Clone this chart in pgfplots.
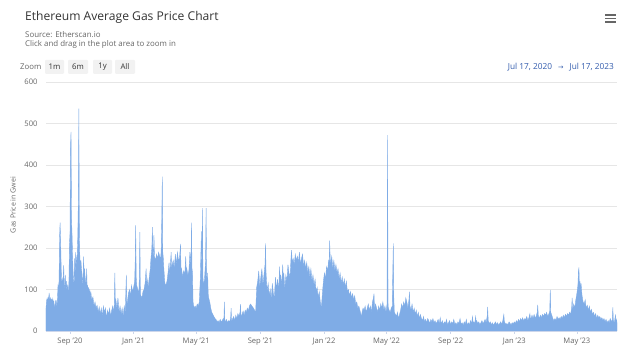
\documentclass[border=0pt]{standalone}
\usepackage{fontspec}
\setmainfont{Open Sans}
\newfontfamily\dejavu{DejaVu Sans}
\usepackage{pgfplots}
\pgfplotsset{compat=1.18}
\definecolor{barblue}{HTML}{7FACE6}
\definecolor{titlegray}{HTML}{333333}
\definecolor{subgray}{HTML}{666666}
\definecolor{gridgray}{HTML}{E6E6E6}
\definecolor{axisblue}{HTML}{CCD6EB}
\definecolor{btngray}{HTML}{F2F2F2}
\definecolor{datecol}{HTML}{335CAD}
\begin{document}
\begin{tikzpicture}
\useasboundingbox (0pt,0pt) rectangle (624pt,352pt);
\begin{axis}[
  at={(46pt,21pt)}, anchor=south west,
  scale only axis, width=571pt, height=249pt,
  xmin=0, xmax=1095, ymin=0, ymax=600,
  axis line style={draw=none},
  ytick={0,100,200,300,400,500,600},
  ymajorgrids, grid style={gridgray, line width=0.6pt},
  ytick style={draw=none},
  xtick={46,168,288,411,533,653,776,898,1018},
  xticklabels={Sep '20,Jan '21,May '21,Sep '21,Jan '22,May '22,Sep '22,Jan '23,May '23},
  xtick pos=bottom, xtick align=outside,
  major tick length=3pt,
  xtick style={axisblue, line width=0.6pt},
  /pgf/number format/assume math mode=true,
  yticklabel style={font=\fontsize{7.6}{9}\selectfont, text=subgray, xshift=-5pt},
  xticklabel style={font=\fontsize{7.6}{9}\selectfont, text=subgray, yshift=-0.5pt},
  clip=false,
]
\addplot[fill=barblue, draw=barblue, line width=0.35pt] table[row sep=\\] {
0 55\\ 1 72\\ 2 78\\ 3 70\\ 4 80\\ 5 75\\ 6 92\\ 7 78\\ 8 74\\ 9 80\\ 10 72\\ 11 76\\ 12 70\\ 13 78\\ 14 68\\ 15 72\\ 16 60\\ 17 55\\ 18 70\\ 19 74\\ 20 72\\ 21 55\\ 22 78\\ 23 110\\ 24 105\\ 25 120\\ 26 225\\ 27 261\\ 28 220\\ 29 160\\ 30 110\\
31 125\\ 32 115\\ 33 130\\ 34 159\\ 35 110\\ 36 100\\ 37 135\\ 38 105\\ 39 120\\ 40 98\\ 41 110\\ 42 100\\ 43 95\\ 44 120\\ 45 210\\ 46 235\\ 47 445\\ 48 480\\ 49 270\\ 50 230\\ 51 180\\ 52 140\\ 53 120\\ 54 110\\ 55 175\\ 56 130\\ 57 190\\ 58 150\\ 59 175\\ 60 185\\
61 230\\ 62 315\\ 63 536\\ 64 230\\ 65 175\\ 66 160\\ 67 170\\ 68 150\\ 69 140\\ 70 120\\ 71 110\\ 72 180\\ 73 140\\ 74 150\\ 75 130\\ 76 120\\ 77 110\\ 78 150\\ 79 100\\ 80 110\\ 81 90\\ 82 105\\ 83 85\\ 84 100\\ 85 80\\ 86 95\\ 87 82\\ 88 75\\ 90 82\\ 92 60\\
94 70\\ 96 55\\ 98 62\\ 100 45\\ 102 58\\ 104 40\\ 106 55\\ 108 35\\ 110 60\\ 112 45\\ 114 55\\ 116 30\\ 118 50\\ 120 40\\ 122 55\\ 124 35\\ 126 50\\ 128 60\\ 130 45\\ 131 65\\ 132 140\\ 133 60\\ 134 75\\ 136 55\\ 138 80\\ 140 45\\ 142 60\\ 144 40\\ 146 55\\ 148 35\\
150 60\\ 152 45\\ 154 135\\ 155 60\\ 156 70\\ 158 90\\ 160 100\\ 162 85\\ 164 110\\ 166 95\\ 168 105\\ 170 120\\ 171 165\\ 172 255\\ 173 130\\ 174 110\\ 176 100\\ 178 90\\ 179 130\\ 180 238\\ 181 90\\ 182 85\\ 184 80\\ 186 95\\ 188 100\\ 190 115\\ 192 150\\ 193 110\\ 194 125\\ 196 105\\ 198 130\\
200 150\\ 201 170\\ 202 185\\ 203 200\\ 204 250\\ 205 190\\ 206 175\\ 207 231\\ 208 180\\ 210 170\\ 212 185\\ 214 175\\ 216 190\\ 218 180\\ 220 175\\ 221 200\\ 222 270\\ 223 372\\ 224 190\\ 225 175\\ 226 150\\ 228 115\\ 230 110\\ 232 120\\ 234 140\\ 236 165\\ 237 130\\ 238 150\\ 240 190\\ 241 145\\
242 160\\ 244 170\\ 246 150\\ 248 185\\ 250 160\\ 252 190\\ 254 170\\ 256 175\\ 258 210\\ 259 140\\ 260 150\\ 262 130\\ 264 145\\ 266 135\\ 268 180\\ 269 140\\ 270 150\\ 272 135\\ 274 145\\ 276 190\\ 278 160\\ 279 261\\ 280 150\\ 281 140\\ 282 70\\ 284 55\\ 286 60\\ 288 55\\ 290 65\\ 292 60\\
294 70\\ 296 130\\ 298 240\\ 299 140\\ 300 296\\ 301 130\\ 302 110\\ 304 125\\ 306 170\\ 307 296\\ 308 140\\ 309 110\\ 310 140\\ 311 90\\ 312 80\\ 314 70\\ 316 55\\ 318 45\\ 320 40\\
322 35\\ 324 30\\ 326 28\\ 328 22\\ 330 25\\ 332 20\\ 334 28\\ 336 22\\ 338 25\\ 340 30\\ 341 20\\ 342 70\\ 343 25\\ 344 22\\ 346 28\\ 348 20\\ 350 25\\ 352 22\\ 354 30\\ 355 55\\ 356 22\\ 358 30\\ 360 35\\ 362 25\\ 364 38\\ 366 30\\ 368 42\\ 370 35\\ 372 45\\ 373 65\\
374 35\\ 376 40\\ 378 48\\ 380 38\\ 382 50\\ 384 45\\ 386 55\\ 388 48\\ 390 60\\ 392 65\\ 394 62\\ 396 58\\ 398 55\\ 400 50\\ 402 45\\
404 105\\ 406 120\\ 408 145\\ 410 105\\ 412 130\\ 414 150\\ 416 110\\ 418 135\\ 420 160\\ 421 211\\ 422 140\\ 424 95\\ 426 115\\ 428 85\\ 430 100\\ 432 75\\ 434 115\\ 436 90\\ 438 80\\ 440 130\\ 442 100\\ 444 125\\ 446 95\\ 448 155\\ 449 120\\ 450 135\\ 452 110\\ 454 160\\ 455 125\\ 456 140\\
458 100\\ 460 135\\ 462 120\\ 464 160\\ 466 140\\ 468 130\\
470 180\\ 471 195\\ 472 165\\ 474 175\\ 476 160\\ 478 185\\ 480 170\\ 482 180\\ 484 165\\ 486 190\\ 488 160\\ 490 175\\ 492 185\\ 494 155\\ 496 170\\ 498 150\\ 500 165\\ 502 140\\ 504 155\\ 506 130\\ 508 150\\ 510 120\\ 512 135\\ 514 110\\ 516 125\\ 518 95\\ 520 105\\ 522 80\\ 524 95\\ 526 70\\
528 55\\ 530 90\\ 532 120\\ 534 140\\ 536 125\\ 538 155\\ 540 145\\ 542 170\\ 543 160\\ 544 218\\ 545 175\\ 546 160\\ 548 180\\ 550 150\\ 552 170\\ 554 145\\ 556 160\\ 558 140\\ 560 150\\ 562 125\\ 564 140\\ 566 115\\ 568 130\\ 570 110\\ 572 125\\ 574 105\\ 576 120\\ 578 95\\ 580 100\\ 582 85\\
584 95\\ 586 80\\ 588 90\\ 590 75\\ 592 85\\ 594 65\\ 596 70\\ 598 55\\ 600 60\\ 602 50\\ 604 40\\ 605 30\\ 606 45\\ 608 55\\ 610 50\\ 612 60\\ 614 45\\ 616 55\\ 618 65\\ 620 50\\ 622 60\\ 624 45\\ 626 70\\ 628 80\\ 629 90\\ 630 55\\ 632 65\\ 634 55\\ 636 45\\ 638 60\\
640 50\\ 642 65\\ 644 55\\ 646 70\\ 648 50\\ 650 60\\ 652 45\\ 654 65\\ 655 472\\ 656 60\\ 658 50\\ 660 45\\ 662 55\\ 664 60\\ 665 140\\ 666 211\\ 667 80\\ 668 45\\ 670 40\\ 672 35\\ 674 45\\ 676 30\\ 678 40\\ 680 50\\ 682 65\\ 684 55\\ 686 70\\ 688 60\\ 690 80\\ 692 70\\
694 55\\ 696 75\\ 697 95\\ 698 60\\ 700 50\\ 702 65\\ 704 45\\ 706 55\\ 708 40\\ 710 50\\ 712 35\\ 714 45\\ 716 30\\
718 40\\ 720 30\\ 722 25\\ 724 35\\ 726 22\\ 728 28\\ 730 20\\ 732 30\\ 734 25\\ 736 18\\ 738 28\\ 740 22\\ 742 30\\ 744 20\\ 746 25\\ 748 18\\ 750 22\\ 752 28\\ 754 18\\ 756 32\\ 757 22\\ 758 18\\ 760 25\\ 762 15\\ 764 22\\ 766 18\\ 768 28\\ 770 15\\ 772 20\\ 774 25\\
776 15\\ 778 22\\ 780 18\\ 782 28\\ 784 16\\ 786 20\\ 788 15\\ 790 22\\ 792 18\\ 794 30\\ 796 16\\ 798 20\\ 800 14\\ 802 22\\ 804 16\\ 806 28\\ 808 14\\ 810 20\\ 812 15\\ 814 25\\ 816 18\\ 818 35\\ 819 20\\ 820 22\\ 822 18\\ 824 35\\ 825 20\\ 826 25\\ 828 18\\ 830 22\\
832 15\\ 834 20\\ 836 25\\ 838 18\\ 840 22\\ 842 28\\ 844 20\\ 846 35\\ 847 58\\ 848 25\\ 850 18\\ 852 22\\ 854 15\\ 856 20\\ 858 14\\ 860 18\\ 862 22\\ 864 15\\ 866 20\\ 868 14\\ 870 18\\ 872 22\\ 874 16\\ 876 25\\ 878 40\\ 879 22\\ 880 20\\ 882 16\\ 884 18\\ 886 15\\
888 22\\ 890 18\\ 892 15\\ 894 20\\ 896 17\\ 898 22\\ 900 18\\ 902 25\\ 904 20\\ 906 28\\ 908 22\\ 910 30\\ 912 25\\ 914 32\\ 916 24\\ 918 30\\ 920 28\\ 922 35\\ 924 25\\ 926 32\\ 928 42\\ 929 28\\ 930 30\\ 932 38\\ 934 30\\ 936 40\\ 938 32\\ 940 35\\ 942 45\\ 943 63\\
944 38\\ 946 30\\ 948 38\\ 950 32\\ 952 40\\ 954 35\\ 956 42\\ 958 38\\ 960 45\\ 962 35\\ 964 40\\ 966 48\\ 967 99\\ 968 45\\ 970 38\\ 972 30\\ 974 25\\ 976 30\\ 978 25\\ 980 35\\ 982 28\\ 984 32\\ 986 28\\ 988 35\\ 990 30\\ 992 38\\ 994 32\\ 996 40\\ 998 35\\ 1000 42\\
1002 38\\ 1004 45\\ 1006 40\\ 1008 55\\ 1009 80\\ 1010 50\\ 1012 65\\ 1014 55\\ 1016 75\\ 1018 90\\ 1020 110\\ 1021 143\\ 1022 153\\ 1023 105\\ 1024 120\\ 1025 95\\ 1026 115\\ 1028 85\\ 1030 70\\ 1032 65\\ 1034 75\\ 1036 55\\ 1038 62\\ 1040 50\\ 1042 60\\ 1044 45\\ 1046 52\\ 1048 40\\ 1050 45\\ 1052 35\\
1054 42\\ 1056 30\\ 1058 38\\ 1060 32\\ 1062 35\\ 1064 28\\ 1066 32\\ 1068 25\\ 1070 30\\ 1072 22\\ 1074 28\\ 1076 20\\ 1078 25\\ 1080 20\\ 1082 30\\ 1084 22\\ 1086 28\\ 1087 57\\ 1088 25\\ 1090 20\\ 1092 40\\ 1093 22\\ 1094 28\\ 1095 20\\
} \closedcycle;
\draw[axisblue, line width=0.6pt] (axis cs:0,0) -- (axis cs:1095,0);
\end{axis}
% title and subtitle
\node[anchor=west, inner sep=0pt, text=titlegray, font=\fontsize{12.1}{14}\selectfont] at (25pt,335pt) {Ethereum Average Gas Price Chart};
\node[anchor=west, inner sep=0pt, text=subgray, font=\fontsize{7.9}{9}\selectfont] at (25pt,317pt) {Source: Etherscan.io};
\node[anchor=west, inner sep=0pt, text=subgray, font=\fontsize{7.9}{9}\selectfont] at (25pt,308pt) {Click and drag in the plot area to zoom in};
% hamburger
\foreach \yy in {337,333.5,330} {\draw[subgray, line width=1.3pt] (605pt,\yy pt) -- (615.5pt,\yy pt);}
% range selector
\node[anchor=west, inner sep=0pt, text=subgray, font=\fontsize{7.8}{9}\selectfont] at (20pt,285pt) {Zoom};
\fill[btngray, rounded corners=1pt] (45pt,278pt) rectangle (64pt,292pt);
\fill[btngray, rounded corners=1pt] (68pt,278pt) rectangle (88pt,292pt);
\fill[btngray, rounded corners=1pt] (93pt,278pt) rectangle (112pt,292pt);
\fill[btngray, rounded corners=1pt] (115pt,278pt) rectangle (135pt,292pt);
\node[inner sep=0pt, text=titlegray, font=\fontsize{7.8}{9}\selectfont] at (54.5pt,285pt) {1m};
\node[inner sep=0pt, text=titlegray, font=\fontsize{7.8}{9}\selectfont] at (78pt,285pt) {6m};
\node[inner sep=0pt, text=titlegray, font=\fontsize{7.8}{9}\selectfont] at (102.5pt,285pt) {1y};
\node[inner sep=0pt, text=titlegray, font=\fontsize{7.8}{9}\selectfont] at (125pt,285pt) {All};
\node[anchor=east, inner sep=0pt, text=datecol, font=\fontsize{8.3}{9}\selectfont] at (614pt,285pt) {Jul 17, 2020\hspace{6pt}{\dejavu\fontsize{6.5}{8}\selectfont →}\hspace{6pt}Jul 17, 2023};
% y label
\node[rotate=90, inner sep=0pt, text=subgray, font=\fontsize{7}{8}\selectfont] at (13pt,147pt) {Gas Price in Gwei};
\end{tikzpicture}
\end{document}
